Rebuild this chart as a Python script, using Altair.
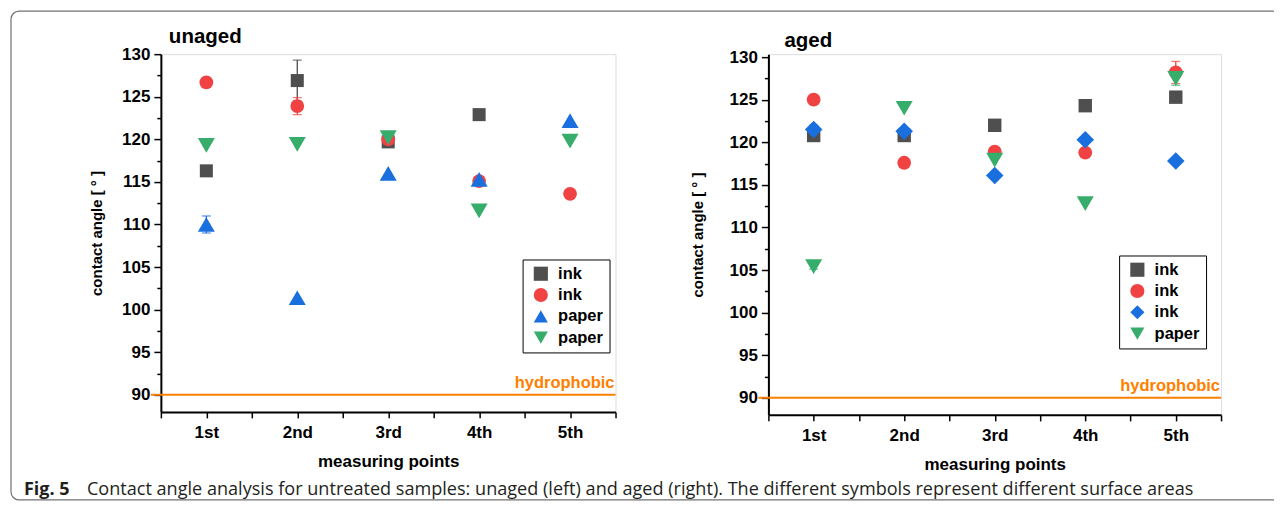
import altair as alt
import pandas as pd

# ---------------- data ----------------
points = ["1st", "2nd", "3rd", "4th", "5th"]

# unaged (left panel)
unaged_keys = ["ink|1", "ink|2", "paper|1", "paper|2"]
unaged_ink_square = [116.3, 126.9, 119.7, 122.9, None]
unaged_ink_circle = [126.7, 123.9, 120.0, 115.1, 113.6]
unaged_paper_up = [110.0, 101.4, 116.0, 115.3, 122.2]
unaged_paper_down = [119.3, 119.4, 120.2, 111.6, 119.8]
unaged_ink_square_err = [0.0, 2.4, 0.0, 0.0, 0.0]
unaged_ink_circle_err = [0.0, 1.0, 0.4, 0.0, 0.0]
unaged_paper_up_err = [1.0, 0.0, 0.0, 0.0, 0.0]
unaged_paper_down_err = [0.0, 0.0, 0.3, 0.0, 0.0]

# aged (right panel)
aged_keys = ["ink|1", "ink|2", "ink|3", "paper|1"]
aged_ink_square = [120.8, 120.8, 122.0, 124.3, 125.3]
aged_ink_circle = [125.0, 117.6, 118.9, 118.8, 128.2]
aged_ink_diamond = [121.5, 121.3, 116.1, 120.3, 117.8]
aged_paper_down = [105.4, 124.0, 117.9, 112.8, 127.5]
aged_ink_square_err = [0.3, 0.0, 0.0, 0.0, 0.0]
aged_ink_circle_err = [0.0, 0.0, 0.3, 0.0, 1.3]
aged_ink_diamond_err = [0.5, 0.3, 0.0, 0.0, 0.0]
aged_paper_down_err = [0.3, 0.0, 0.0, 0.0, 0.8]

hydrophobic_level = [90]
y_major = [90, 95, 100, 105, 110, 115, 120, 125, 130]
y_minor = [92.5, 97.5, 102.5, 107.5, 112.5, 117.5, 122.5, 127.5]
x_ticks = [0.5, 1, 1.5, 2, 2.5, 3, 3.5, 4, 4.5, 5, 5.5]

caption_bold = "Fig. 5"
caption_text = ("Contact angle analysis for untreated samples: unaged (left) and aged (right). "
                "The different symbols represent different surface areas")

# ---------------- styles ----------------
FONT = "Liberation Sans"
GRAY = "#4f4f4f"
RED = "#f04242"
BLUE = "#1a6fdf"
GREEN = "#37ad6b"
ORANGE = "#ff8000"
FRAME = "#707070"

x_label_expr = ("datum.value % 1 == 0 ? " + str([""] + points).replace('"', "'")
                + "[datum.value] : ''")


def build_df(keys, series, errs, sizes):
    rows = []
    for k, vals, es, sz in zip(keys, series, errs, sizes):
        for i, (v, e) in enumerate(zip(vals, es)):
            if v is None:
                continue
            rows.append({"x": i + 1, "v": v, "s": k, "e": e, "lo": v - e, "hi": v + e,
                         "sz": sz})
    return pd.DataFrame(rows)


def panel(title, title_dx, title_y, ytitle_pad, keys, series, errs, shapes, colors, sizes,
          width, height, ytop, legend_x, legend_y, extra=None):
    df = build_df(keys, series, errs, sizes)
    err = df[df["e"] > 0]
    caps = pd.concat([
        err.assign(c=err["lo"]),
        err.assign(c=err["hi"]),
    ])
    hdf = pd.DataFrame({"v": hydrophobic_level})

    xscale = alt.Scale(domain=[0.5, 5.5], nice=False, zero=False)
    yscale = alt.Scale(domain=[88, ytop], nice=False, zero=False)
    x_axis = alt.Axis(values=x_ticks, labelExpr=x_label_expr, title="measuring points",
                      grid=False, domainWidth=2, domainColor="black", tickColor="black",
                      tickSize=6, tickWidth=1.5, labelFont=FONT, labelFontSize=17,
                      labelFontWeight="bold", labelColor="black", labelPadding=7,
                      labelOverlap=False, labelFlush=False, titleFont=FONT,
                      titleFontSize=17, titleFontWeight="bold", titleColor="black",
                      titlePadding=13)
    y_axis = alt.Axis(values=y_major, title="contact angle [ ° ]", orient="left",
                      grid=False, domainWidth=2, domainColor="black", tickColor="black",
                      tickSize=7, tickWidth=1.5, labelFont=FONT, labelFontSize=17,
                      labelFontWeight="bold", labelColor="black", labelPadding=4,
                      titleFont=FONT, titleFontSize=15, titleFontWeight="bold",
                      titleColor="black", titlePadding=ytitle_pad)
    y_minor_axis = alt.Axis(values=y_minor, orient="left", labels=False, domain=False,
                            grid=False, tickColor="black", tickSize=4, tickWidth=1.5,
                            title=None)
    x_enc = alt.X("x:Q", scale=xscale, axis=x_axis)
    legend = alt.Legend(title=None, orient="none", legendX=legend_x, legendY=legend_y,
                        labelExpr="split(datum.label, '|')[0]", strokeColor="black",
                        fillColor="white", padding=6, symbolSize=200, symbolOffset=4,
                        symbolStrokeWidth=0, symbolOpacity=1, labelFont=FONT,
                        labelFontSize=16.5, labelFontWeight="bold", labelColor="black",
                        rowPadding=4.3, labelOffset=9)
    cscale = alt.Scale(domain=keys, range=colors)
    sscale = alt.Scale(domain=keys, range=shapes)
    color_enc = alt.Color("s:N", scale=cscale, legend=legend)

    hline = alt.Chart(hdf).mark_rule(color=ORANGE, strokeWidth=2).encode(
        y=alt.Y("v:Q", scale=yscale, axis=y_minor_axis),
        x=alt.value(-10), x2=alt.value(width))
    htext = alt.Chart(hdf).mark_text(align="right", baseline="alphabetic", dy=-7,
                                     font=FONT, fontSize=16.5, fontWeight="bold",
                                     color=ORANGE).encode(
        y=alt.Y("v:Q", scale=yscale, axis=None),
        x=alt.value(width - 1), text=alt.value("hydrophobic"))
    ttext = alt.Chart(hdf).mark_text(align="left", baseline="alphabetic", font=FONT,
                                     fontSize=20.5, fontWeight="bold",
                                     color="black").encode(
        x=alt.value(title_dx), y=alt.value(title_y), text=alt.value(title))
    bars = alt.Chart(err).mark_rule(strokeWidth=1.3).encode(
        x=x_enc, y=alt.Y("lo:Q", scale=yscale, axis=None), y2="hi:Q",
        color=color_enc)
    capm = alt.Chart(caps).mark_tick(orient="horizontal", size=9, thickness=1.3).encode(
        x=x_enc, y=alt.Y("c:Q", scale=yscale, axis=None),
        color=color_enc)
    pts = alt.Chart(df).mark_point(filled=True, opacity=1, strokeWidth=0).encode(
        x=x_enc,
        y=alt.Y("v:Q", scale=yscale, axis=y_axis),
        color=color_enc,
        shape=alt.Shape("s:N", scale=sscale, legend=legend),
        size=alt.Size("sz:Q", scale=None, legend=None))
    layers = [hline, htext, ttext, bars, capm, pts]
    if extra:
        layers = extra + layers
    return alt.layer(*layers).resolve_axis(y="independent").properties(
        width=width, height=height)


# ---------------- frame and caption (left panel coordinates) ----------------
one = pd.DataFrame({"k": [0]})
FL, FT, FR, FB, R = -150, -43, 1114, 446, 8


def seg(x1, y1, x2, y2):
    return alt.Chart(one).mark_rule(color=FRAME, strokeWidth=1.2).encode(
        x=alt.value(x1), x2=alt.value(x2), y=alt.value(y1), y2=alt.value(y2))


def corner(cx, cy, t1, t2):
    return alt.Chart(one).mark_arc(radius=R, radius2=R, theta=t1, theta2=t2, filled=False,
                                   stroke=FRAME, strokeWidth=1.2).encode(
        x=alt.value(cx), y=alt.value(cy))


frame = [
    seg(FL + R, FT, FR, FT),
    seg(FL + R, FB, FR, FB),
    seg(FL, FT + R, FL, FB - R),
    corner(FL + R, FT + R, 4.71239, 6.28318),
    corner(FL + R, FB - R, 3.14159, 4.71239),
    alt.Chart(one).mark_text(align="left", baseline="alphabetic", font="Open Sans",
                             fontSize=18, fontWeight="bold", color="#231f20").encode(
        x=alt.value(-137), y=alt.value(441), text=alt.value(caption_bold)),
    alt.Chart(one).mark_text(align="left", baseline="alphabetic", font="Open Sans",
                             fontSize=18.1, color="#231f20").encode(
        x=alt.value(-74), y=alt.value(441), text=alt.value(caption_text)),
]

left = panel("unaged", 8, -11, 17, unaged_keys,
             [unaged_ink_square, unaged_ink_circle, unaged_paper_up, unaged_paper_down],
             [unaged_ink_square_err, unaged_ink_circle_err, unaged_paper_up_err,
              unaged_paper_down_err],
             ["square", "circle", "triangle-up", "triangle-down"],
             [GRAY, RED, BLUE, GREEN], [170, 190, 290, 290],
             455, 358, 130, 362, 205.5, extra=frame)

right = panel("aged", 16, -7.5, 24, aged_keys,
              [aged_ink_square, aged_ink_circle, aged_ink_diamond, aged_paper_down],
              [aged_ink_square_err, aged_ink_circle_err, aged_ink_diamond_err,
               aged_paper_down_err],
              ["square", "circle", "diamond", "triangle-down"],
              [GRAY, RED, BLUE, GREEN], [180, 190, 310, 290],
              453, 361, 130.35, 351, 201.5)

chart = alt.hconcat(left, right, spacing=153, bounds="flush").resolve_scale(
    x="independent", y="independent", color="independent", shape="independent",
    size="independent").resolve_legend(color="independent", shape="independent",
                                       size="independent").properties(
    padding={"left": 0, "top": 0, "right": 0, "bottom": 0}
).configure_view(strokeWidth=0, stroke="transparent").configure(background="white")

chart.save("out.html", embed_options={"renderer": "svg", "actions": False})
